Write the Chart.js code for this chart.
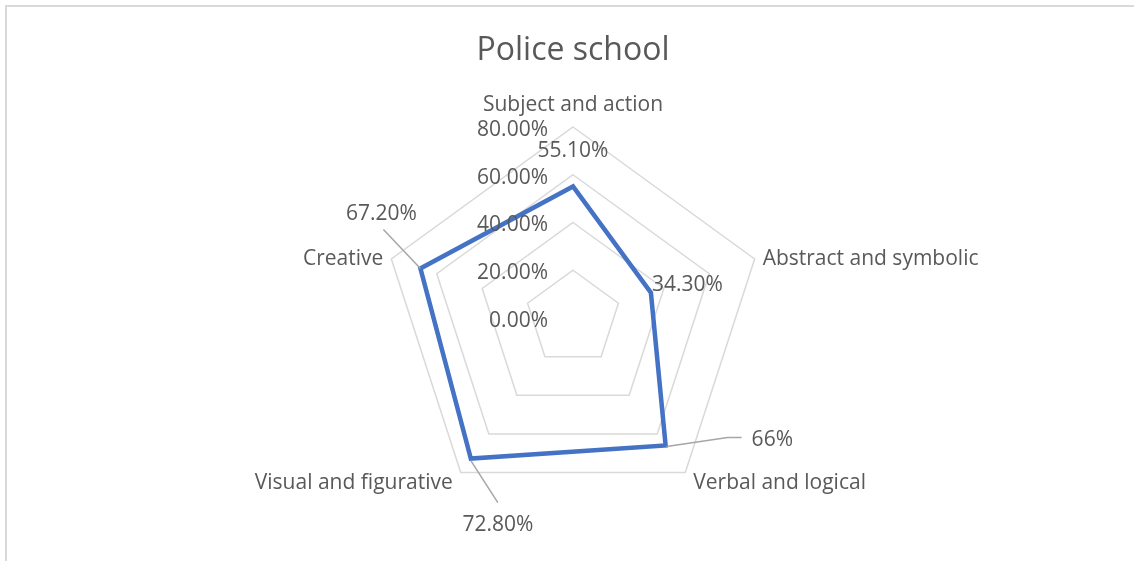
<!DOCTYPE html>
<html>
<head>
<meta charset="utf-8">
<title>Police school</title>
<script src="https://cdn.jsdelivr.net/npm/chart.js@4.4.1/dist/chart.umd.min.js"></script>
<style>
  html, body { margin: 0; padding: 0; background: #fff; }
  #wrap { width: 1134px; height: 561px; position: relative; }
</style>
</head>
<body>
<div id="wrap"><canvas id="radar"></canvas></div>
<script>
// categories and values (percent)
const categories = ["Subject and action", "Abstract and symbolic", "Verbal and logical", "Visual and figurative", "Creative"];
const values = [55.1, 34.3, 66, 72.8, 67.2];
const tickValues = [0, 20, 40, 60, 80];

const FONT = "'Open Sans', 'Liberation Sans', sans-serif";
const TEXT = '#595959';
const LEADER = '#a6a6a6';
const DY = 2; // Open Sans sits a bit high with 'middle' baseline

function fmtPct(v) {
    return Number.isInteger(v) ? v + '%' : v.toFixed(2) + '%';
}

// frame, title, axis text, point labels and data labels
const decorations = {
    id: 'decorations',
    beforeDraw(chart) {
        const ctx = chart.ctx;
        ctx.save();
        ctx.fillStyle = '#fff';
        ctx.fillRect(0, 0, chart.width, chart.height);
        ctx.strokeStyle = '#d9d9d9';
        ctx.lineWidth = 2;
        ctx.strokeRect(6, 6, chart.width + 20, chart.height + 20);
        ctx.restore();
    },
    afterDatasetsDraw(chart) {
        const ctx = chart.ctx;
        const r = chart.scales.r;
        ctx.save();
        ctx.fillStyle = TEXT;

        // title
        ctx.font = '32px ' + FONT;
        ctx.textAlign = 'center';
        ctx.textBaseline = 'middle';
        ctx.fillText('Police school', r.xCenter, 49 + DY);

        // value axis labels, left of the vertical axis
        ctx.font = '21px ' + FONT;
        ctx.textAlign = 'right';
        tickValues.forEach(v => {
            const y = r.yCenter - r.getDistanceFromCenterForValue(v);
            ctx.fillText(v.toFixed(2) + '%', r.xCenter - 25, y + 1 + DY);
        });

        // category labels outside the outer ring
        categories.forEach((name, i) => {
            const p = r.getPointPositionForValue(i, r.max);
            let x = p.x, y = p.y + DY;
            if (Math.abs(p.x - r.xCenter) < 2) {
                ctx.textAlign = 'center';
                y -= 24;
            } else if (p.x > r.xCenter) {
                ctx.textAlign = 'left';
                x += 8;
                y += p.y > r.yCenter ? 8 : -2;
            } else {
                ctx.textAlign = 'right';
                x -= 8;
                y += p.y > r.yCenter ? 8 : -2;
            }
            ctx.fillText(name, x, y);
        });

        // data labels, some with leader lines
        const meta = chart.getDatasetMeta(0);
        const pts = meta.data.map(e => ({ x: e.x, y: e.y }));
        ctx.strokeStyle = LEADER;
        ctx.lineWidth = 1.5;
        const leader = (path) => {
            ctx.beginPath();
            ctx.moveTo(path[0][0], path[0][1]);
            path.slice(1).forEach(q => ctx.lineTo(q[0], q[1]));
            ctx.stroke();
        };

        let p = pts[0];
        ctx.textAlign = 'center';
        ctx.fillText(fmtPct(values[0]), p.x, p.y - 37 + DY);

        p = pts[1];
        ctx.textAlign = 'left';
        ctx.fillText(fmtPct(values[1]), p.x + 1, p.y - 10 + DY);

        p = pts[2];
        leader([[p.x + 1, p.y + 1], [p.x + 62, p.y - 8], [p.x + 76, p.y - 8]]);
        ctx.textAlign = 'left';
        ctx.fillText(fmtPct(values[2]), p.x + 86, p.y - 7 + DY);

        p = pts[3];
        leader([[p.x, p.y + 2], [p.x + 27, p.y + 44]]);
        ctx.textAlign = 'center';
        ctx.fillText(fmtPct(values[3]), p.x + 27, p.y + 64 + DY);

        p = pts[4];
        leader([[p.x, p.y], [p.x - 37, p.y - 39]]);
        ctx.textAlign = 'center';
        ctx.fillText(fmtPct(values[4]), p.x - 39, p.y - 56 + DY);

        ctx.restore();
    }
};

document.addEventListener('DOMContentLoaded', function() {
    const ctx = document.getElementById('radar').getContext('2d');
    new Chart(ctx, {
        type: 'radar',
        data: {
            labels: categories,
            datasets: [{
                label: 'Police school',
                data: values,
                borderColor: '#4472C4',
                borderWidth: 4.5,
                fill: false,
                pointRadius: 0,
                pointHoverRadius: 0,
                tension: 0
            }]
        },
        options: {
            responsive: false,
            animation: false,
            layout: { padding: { left: 382, right: 370, top: 127, bottom: 52 } },
            plugins: {
                legend: { display: false },
                title: { display: false },
                tooltip: { enabled: false }
            },
            scales: {
                r: {
                    min: 0,
                    max: 80,
                    ticks: { stepSize: 20, display: false },
                    grid: { color: '#d9d9d9', lineWidth: 1.5 },
                    angleLines: { display: false },
                    pointLabels: { display: false }
                }
            }
        },
        plugins: [decorations]
    });
});
</script>
<script>
  // fixed canvas size
  const c = document.getElementById('radar');
  c.width = 1134; c.height = 561;
  c.style.width = '1134px'; c.style.height = '561px';
</script>
</body>
</html>
